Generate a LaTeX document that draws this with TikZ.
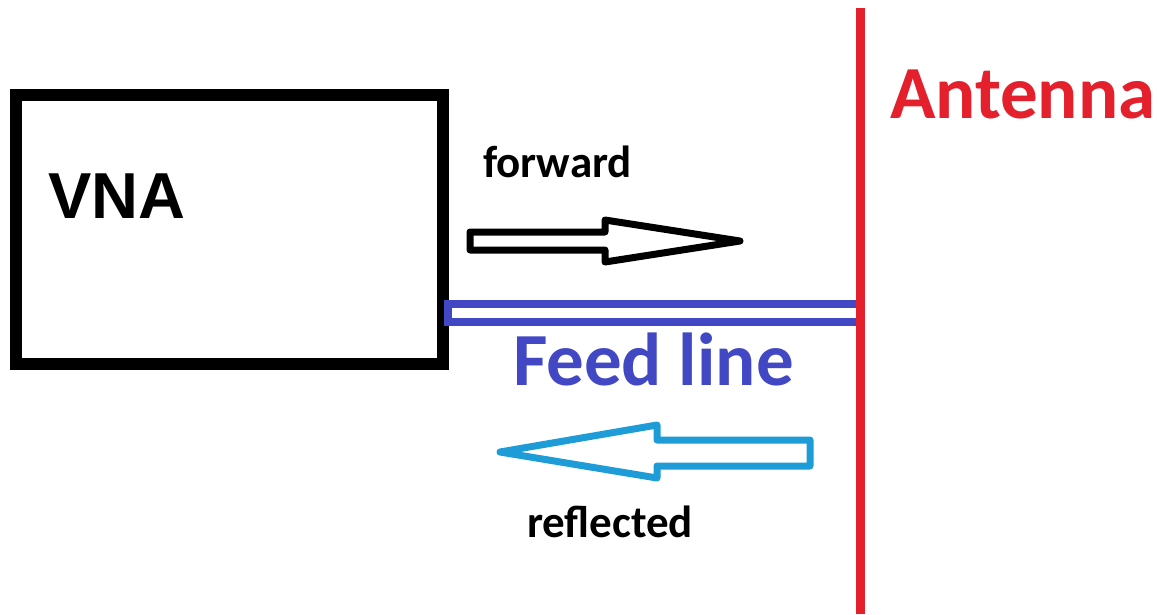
\documentclass[tikz,border=0pt]{standalone}
\usepackage{fontspec}
\setmainfont{Carlito}
\newfontfamily\arialfont{Liberation Sans}
\usepackage{tikz}

\definecolor{antred}{RGB}{228,32,45}
\definecolor{feedblue}{RGB}{66,72,196}
\definecolor{reflblue}{RGB}{30,156,216}

\begin{document}
\begin{tikzpicture}[x=1pt, y=-1pt]
  \tikzset{every node/.style={inner sep=0pt, outer sep=0pt},
           label text/.style={anchor=base west, font=\bfseries\fontsize{45}{45}\selectfont},
           big text/.style={anchor=base west, font=\bfseries\fontsize{75}{75}\selectfont},
           block arrow/.style={line width=7pt, line join=round},
           feed/.style={draw=feedblue, line width=8pt}}
  \useasboundingbox (0,0) rectangle (1159,614);
  % the analyser
  \node[draw, line width=12pt, minimum width=427pt, minimum height=269pt] (vna) at (229.5,229.5) {};
  \node[anchor=base west, font=\arialfont\bfseries\fontsize{65}{65}\selectfont] (vna label) at (48,218) {VNA};
  % feed line between them
  \coordinate (ant top) at (860,8);
  \coordinate (ant bot) at (860,614);
  \coordinate (feed start) at (vna.east |- 0,304);
  \draw[feed] ([xshift=5pt]feed start) rectangle (ant top |- 0,322);
  \node[big text, text=feedblue] (feed label) at (513,385) {Feed line};
  % the antenna
  \draw[antred, line width=9pt] (ant top) -- (ant bot);
  \node[big text, text=antred] (ant label) at (890,118) {Antenna};
  % forward wave
  \draw[block arrow] (470,232) -- (605,232) -- (605,220) -- (740,241) -- (605,262) -- (605,250) -- (470,250) -- cycle;
  \node[label text] (fwd label) at (483,177) {forward};
  % reflected wave
  \draw[block arrow, reflblue] (810,440) -- (657,440) -- (657,425) -- (500,452) -- (657,478) -- (657,466) -- (810,466) -- cycle;
  \node[label text] (refl label) at (527,537) {reflected};
\end{tikzpicture}
\end{document}
